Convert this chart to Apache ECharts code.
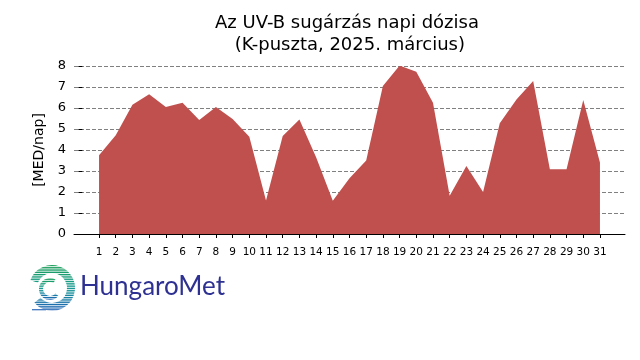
<!DOCTYPE html>
<html><head><meta charset="utf-8">
<script src="https://cdn.jsdelivr.net/npm/echarts@6/dist/echarts.min.js"></script>
<style>html,body{margin:0;padding:0;background:#fff}#c{width:640px;height:360px}</style>
</head><body><div id="c"></div>
<script>
var days = [1,2,3,4,5,6,7,8,9,10,11,12,13,14,15,16,17,18,19,20,21,22,23,24,25,26,27,28,29,30,31];
var uvbDose = [3.75,4.7,6.15,6.65,6.05,6.25,5.43,6.05,5.48,4.63,1.6,4.67,5.45,3.65,1.58,2.65,3.5,7.05,8.02,7.73,6.25,1.82,3.24,2.0,5.27,6.4,7.28,3.08,3.08,6.38,3.4];
var yTicks = [0,1,2,3,4,5,6,7,8];
var titleText = 'Az UV-B sugárzás napi dózisa\n (K-puszta, 2025. március)';
var yName = '[MED/nap]';
var logoText = 'HungaroMet';

var chart = echarts.init(document.getElementById('c'), null, {renderer:'canvas'});
var pts = days.map(function(d,i){return [d, uvbDose[i]];});

var grad = function(){ return new echarts.graphic.LinearGradient(0,0,0,1,[{offset:0,color:'#1c9e58'},{offset:0.5,color:'#169a94'},{offset:1,color:'#1f5fb5'}]); };
var logo = [
  {type:'arc', shape:{cx:52, cy:288, r:19, startAngle:200*Math.PI/180, endAngle:500*Math.PI/180}, style:{fill:null, stroke:grad(), lineWidth:8}, silent:true},
  {type:'arc', shape:{cx:50, cy:289, r:9, startAngle:40*Math.PI/180, endAngle:300*Math.PI/180}, style:{fill:null, stroke:grad(), lineWidth:4}, silent:true},
  {type:'line', shape:{x1:32, y1:310, x2:46, y2:310}, style:{stroke:'#1f5fb5', lineWidth:2}, silent:true}
];
for (var yy = 262; yy < 316; yy += 2.3) {
  logo.push({type:'line', shape:{x1:24, y1:yy, x2:80, y2:yy}, style:{stroke:'#fff', lineWidth:0.9}, silent:true, z:10});
}

chart.setOption({
  animation:false,
  title:{text:titleText, left:342, top:7, textAlign:'center',
    textStyle:{fontFamily:'DejaVu Sans', fontSize:18, fontWeight:'normal', color:'#000', lineHeight:22}},
  grid:{left:74, right:15, top:66, bottom:126},
  xAxis:{type:'value', min:-0.5, max:32.5, offset:7,
    axisLine:{show:true, lineStyle:{color:'#000', width:1}},
    axisTick:{show:true, length:4, lineStyle:{color:'#000'}, customValues:days},
    axisLabel:{customValues:days, fontFamily:'DejaVu Sans', fontSize:10.5, color:'#000', margin:6},
    splitLine:{show:false}},
  yAxis:{type:'value', min:0, max:8, interval:1,
    name:yName, nameLocation:'middle', nameGap:26, nameRotate:90,
    nameTextStyle:{fontFamily:'DejaVu Sans', fontSize:14, color:'#000'},
    axisLine:{show:false},
    axisTick:{show:true, length:4, lineStyle:{color:'#000'}},
    axisLabel:{fontFamily:'DejaVu Sans', fontSize:13, color:'#000', margin:8},
    splitLine:{show:true, lineStyle:{color:'#808080', type:[4,2], width:1}}},
  series:[{type:'line', data:pts, symbol:'none', lineStyle:{width:0},
    areaStyle:{color:'#C0504D', opacity:1, origin:'start'}, z:3}],
  graphic:logo.concat([{type:'text', left:80, top:274, silent:true,
    style:{text:logoText, fontFamily:'Lato', fontWeight:'normal', fontSize:26, fill:'#2e3191'}}])
});
</script></body></html>
